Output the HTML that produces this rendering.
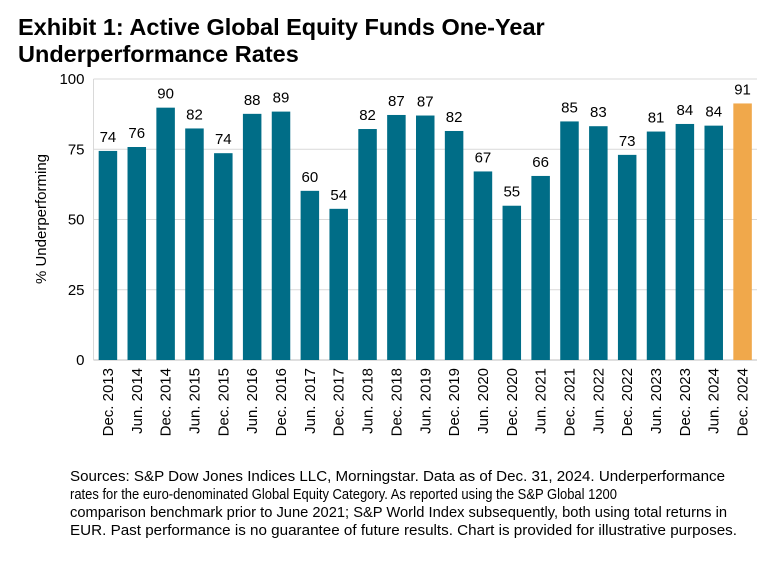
<!DOCTYPE html>
<html><head><meta charset="utf-8"><style>
body{margin:0;background:#fff;font-family:"Liberation Sans",Arial,sans-serif;}
#wrap{position:relative;width:782px;height:568px;overflow:hidden;}
h1{position:absolute;left:18px;top:14px;margin:0;font-size:23.5px;line-height:27px;font-weight:bold;color:#000;white-space:nowrap;}
svg{position:absolute;left:0;top:0;}
</style></head><body>
<div id="wrap">
<svg id="chart" width="782" height="568">
<g font-size="14.5" fill="#000">
<text x="70" y="481" textLength="655" lengthAdjust="spacingAndGlyphs">Sources: S&amp;P Dow Jones Indices LLC, Morningstar.  Data as of Dec. 31, 2024.  Underperformance</text>
<text x="70" y="499" textLength="547" lengthAdjust="spacingAndGlyphs">rates for the euro-denominated Global Equity Category.  As reported using the S&amp;P Global 1200</text>
<text x="70" y="517" textLength="657" lengthAdjust="spacingAndGlyphs">comparison benchmark prior to June 2021; S&amp;P World Index subsequently, both using total returns in</text>
<text x="70" y="535" textLength="667" lengthAdjust="spacingAndGlyphs">EUR.  Past performance is no guarantee of future results.  Chart is provided for illustrative purposes.</text>
</g>
</svg>
<h1>Exhibit 1: Active Global Equity Funds One-Year<br>Underperformance Rates</h1>
</div>
<script>
const categories=["Dec. 2013","Jun. 2014","Dec. 2014","Jun. 2015","Dec. 2015","Jun. 2016","Dec. 2016","Jun. 2017","Dec. 2017","Jun. 2018","Dec. 2018","Jun. 2019","Dec. 2019","Jun. 2020","Dec. 2020","Jun. 2021","Dec. 2021","Jun. 2022","Dec. 2022","Jun. 2023","Dec. 2023","Jun. 2024","Dec. 2024"];
const values=[74.4,75.8,89.8,82.4,73.6,87.6,88.4,60.2,53.8,82.2,87.2,87.0,81.5,67.1,54.9,65.5,84.9,83.2,73.0,81.3,84.0,83.4,91.3];
const labels=["74","76","90","82","74","88","89","60","54","82","87","87","82","67","55","66","85","83","73","81","84","84","91"];
const yTicks=[0,25,50,75,100];
const ns="http://www.w3.org/2000/svg";
const svg=document.getElementById('chart');
const X0=93.5,X1=757,Y0=360,Y1=79;
const slot=(X1-X0)/categories.length,bw=18.5;
const y=v=>Y0-(v/100)*(Y0-Y1);
const xc=i=>X0+slot*(i+0.5);
function mk(t,a){const e=document.createElementNS(ns,t);for(const k in a)e.setAttribute(k,a[k]);svg.appendChild(e);return e;}
yTicks.forEach(t=>{
 const g=mk('line',{x1:X0,x2:X1,y1:y(t),y2:y(t),stroke:t===0?'#bfbfbf':'#d9d9d9','stroke-width':1});
 
 
 const l=mk('text',{x:X0-9,y:y(t)+5,'text-anchor':'end','font-size':15,fill:'#000'});
 l.textContent=t;
 
 
});
const ax=mk('line',{x1:X0,x2:X0,y1:Y1,y2:Y0,stroke:'#d9d9d9'});


const yt=mk('text',{x:0,y:0,transform:'translate(46,219) rotate(-90)','text-anchor':'middle','font-size':15,fill:'#000'});
yt.textContent='% Underperforming';


categories.forEach((c,i)=>{
 const last=i===categories.length-1;
 const r=mk('rect',{x:xc(i)-bw/2,y:y(values[i]),width:bw,height:Y0-y(values[i]),fill:last?'#f0a84b':'#006d87'});
 
 
 const v=mk('text',{x:xc(i),y:y(values[i])-9,'text-anchor':'middle','font-size':15,fill:'#000'});
 v.textContent=labels[i];
 
 
 const t=mk('text',{x:0,y:0,transform:`translate(${xc(i)+5},368) rotate(-90)`,'text-anchor':'end','font-size':15,fill:'#000'});
 t.textContent=c;
 
 
});
</script>
</body></html>
